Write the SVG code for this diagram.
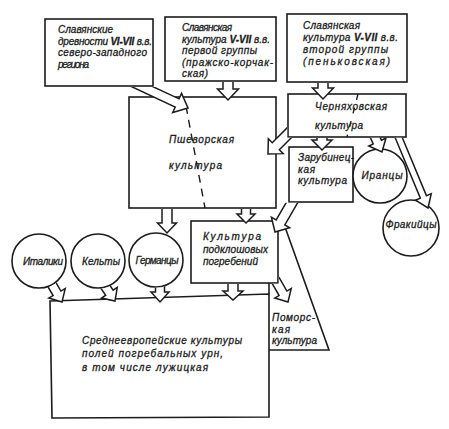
<svg xmlns="http://www.w3.org/2000/svg" width="449" height="429" viewBox="0 0 449 429">
<style>
.bg{fill:#ffffff}
.n{fill:#ffffff;stroke:#1c1c1c;stroke-width:1.6}
.ln{fill:none;stroke:#1c1c1c;stroke-width:1.6}
.d{fill:none;stroke:#1c1c1c;stroke-width:1.4;stroke-dasharray:8,6}
.a{fill:#ffffff;stroke:#1c1c1c;stroke-width:1.5;stroke-linejoin:miter}
.t{font-family:"Liberation Sans","DejaVu Sans",sans-serif;font-style:italic;font-size:10px;fill:#1c1c1c;stroke:#1c1c1c;stroke-width:0.3}
.c{text-anchor:middle}
.r{font-weight:bold}
</style>
<defs>
<clipPath id="cB1"><rect x="0" y="87" width="449" height="342"/></clipPath>
<clipPath id="cCh"><path clip-rule="evenodd" d="M0,0H449V429H0Z M287.2,93.2H406.8V137.8H287.2Z"/></clipPath>
<clipPath id="cZa"><rect x="0" y="202.8" width="449" height="226"/></clipPath>
<clipPath id="cPk"><path clip-rule="evenodd" d="M0,0H449V429H0Z M190.2,220.2H278.8V283.8H190.2Z"/></clipPath>
<clipPath id="cIt"><path clip-rule="evenodd" d="M0,0H449V429H0Z M11.2,261a27.8,27.8 0 1,0 55.6,0a27.8,27.8 0 1,0 -55.6,0Z"/></clipPath>
<clipPath id="cKe"><path clip-rule="evenodd" d="M0,0H449V429H0Z M70.2,261a27.8,27.8 0 1,0 55.6,0a27.8,27.8 0 1,0 -55.6,0Z"/></clipPath>
<clipPath id="cGe"><path clip-rule="evenodd" d="M0,0H449V429H0Z M128.2,260a27.8,27.8 0 1,0 55.6,0a27.8,27.8 0 1,0 -55.6,0Z"/></clipPath>
</defs>
<rect class="bg" x="0" y="0" width="449" height="429"/>

<g id="box-nw-slavic">
<rect class="n" x="45" y="19" width="108" height="67"/>
<text class="t" x="58" y="33" textLength="55" lengthAdjust="spacing">Славянские</text>
<text class="t" x="58" y="44.5" textLength="94" lengthAdjust="spacing">древности <tspan class="r">VI-VII</tspan> в.в.</text>
<text class="t" x="58" y="56" textLength="89" lengthAdjust="spacing">северо-западного</text>
<text class="t" x="58" y="67.5" textLength="31" lengthAdjust="spacing">региона</text>
</g>

<g id="box-prague">
<rect class="n" x="165" y="17" width="111" height="64"/>
<text class="t" x="182" y="31" textLength="50" lengthAdjust="spacing">Славянская</text>
<text class="t" x="182" y="42.5" textLength="88" lengthAdjust="spacing">культура <tspan class="r">V-VII</tspan> в.в.</text>
<text class="t" x="182" y="54" textLength="75" lengthAdjust="spacing">первой группы</text>
<text class="t" x="182" y="65.5" textLength="91" lengthAdjust="spacing">(пражско-корчак-</text>
<text class="t" x="182" y="77" textLength="26" lengthAdjust="spacing">ская)</text>
</g>

<g id="box-penkovka">
<rect class="n" x="287" y="14" width="120" height="68"/>
<text class="t" x="303" y="29" textLength="57" lengthAdjust="spacing">Славянская</text>
<text class="t" x="303" y="40.5" textLength="95" lengthAdjust="spacing">культура <tspan class="r">V-VII</tspan> в.в.</text>
<text class="t" x="303" y="52.5" textLength="85" lengthAdjust="spacing">второй группы</text>
<text class="t" x="303" y="64.5" textLength="87" lengthAdjust="spacing">(пеньковская)</text>
</g>

<g id="box-przeworsk">
<rect class="n" x="129" y="97" width="147" height="111"/>
<line class="d" x1="186" y1="106" x2="205" y2="208"/>
<text class="t" x="169" y="143" textLength="65" lengthAdjust="spacing">Пшеворская</text>
<text class="t" x="169" y="169" textLength="53" lengthAdjust="spacing">культура</text>
</g>

<g id="box-chernyakhov">
<rect class="n" x="288" y="94" width="118" height="43"/>
<line class="d" x1="358" y1="94" x2="347" y2="137" style="stroke-dasharray:6,8"/>
<text class="t" x="315" y="110" textLength="72" lengthAdjust="spacing">Черняховская</text>
<text class="t" x="315" y="129" textLength="48" lengthAdjust="spacing">культура</text>
</g>

<g id="box-zarubintsy">
<rect class="n" x="289" y="147" width="64" height="55"/>
<text class="t" x="298" y="161" textLength="56" lengthAdjust="spacing">Зарубинец-</text>
<text class="t" x="298" y="172.5" textLength="17" lengthAdjust="spacing">кая</text>
<text class="t" x="298" y="184" textLength="49" lengthAdjust="spacing">культура</text>
</g>

<g id="circle-iranians">
<circle class="n" cx="380" cy="176" r="27"/>
<text class="t c" x="382" y="179" textLength="41" lengthAdjust="spacing">Иранцы</text>
</g>

<g id="circle-thracians">
<circle class="n" cx="411" cy="228" r="28"/>
<text class="t c" x="411" y="228" textLength="51" lengthAdjust="spacing">Фракийцы</text>
</g>

<g id="box-pomeranian">
<path class="ln" d="M285,227 L329,350 L269,350"/>
<text class="t" x="272" y="321" textLength="43" lengthAdjust="spacing">Поморс-</text>
<text class="t" x="272" y="332.5" textLength="18" lengthAdjust="spacing">кая</text>
<text class="t" x="272" y="344" textLength="45" lengthAdjust="spacing">культура</text>
</g>

<g id="box-bell-graves">
<rect class="n" x="191" y="221" width="87" height="62"/>
<text class="t" x="203" y="240" textLength="58" lengthAdjust="spacing">Культура</text>
<text class="t" x="203" y="252.5" textLength="65" lengthAdjust="spacing">подклошовых</text>
<text class="t" x="203" y="265" textLength="55" lengthAdjust="spacing">погребений</text>
</g>

<g id="circle-italics">
<circle class="n" cx="39" cy="261" r="27"/>
<text class="t c" x="43" y="265" textLength="40" lengthAdjust="spacing">Италики</text>
</g>
<g id="circle-celts">
<circle class="n" cx="98" cy="261" r="27"/>
<text class="t c" x="101" y="265" textLength="38" lengthAdjust="spacing">Кельты</text>
</g>
<g id="circle-germans">
<circle class="n" cx="156" cy="260" r="27"/>
<text class="t c" x="157" y="264" textLength="43" lengthAdjust="spacing">Германцы</text>
</g>

<g id="box-urnfields">
<path class="n" d="M50,301 L269,294 L269,417 L52,418 Z"/>
<line class="ln" x1="269" y1="283" x2="269" y2="294"/>
<text class="t" x="82" y="344" textLength="160" lengthAdjust="spacing">Среднеевропейские культуры</text>
<text class="t" x="82" y="357" textLength="141" lengthAdjust="spacing">полей погребальных урн,</text>
<text class="t" x="82" y="371" textLength="126" lengthAdjust="spacing">в том числе лужицкая</text>
</g>

<g id="connectors">
<g clip-path="url(#cB1)"><path class="a" transform="translate(188,108) rotate(25)" d="M-68,-4.5 H-12 V-10.5 L0,0 L-12,10.5 V4.5 H-68"/></g>
<path class="a" transform="translate(228,100) rotate(90)" d="M-18,-5 H-11 V-10.5 L0,0 L-11,10.5 V5 H-18"/>
<path class="a" transform="translate(323,99) rotate(90)" d="M-16,-5 H-11 V-10.5 L0,0 L-11,10.5 V5 H-16"/>
<g clip-path="url(#cCh)"><path class="a" transform="translate(268,154) rotate(135)" d="M-45,-5 H-11 V-10.5 L0,0 L-11,10.5 V5 H-45"/></g>
<path class="a" transform="translate(322,150) rotate(90)" d="M-12,-5 H-10 V-10 L0,0 L-10,10 V5 H-12"/>
<g clip-path="url(#cCh)"><path class="a" transform="translate(382,152) rotate(65)" d="M-24,-4.5 H-11 V-9.5 L0,0 L-11,9.5 V4.5 H-24"/></g>
<g clip-path="url(#cCh)"><path class="a" transform="translate(428,208) rotate(67.4)" d="M-82,-3.3 H-12 V-8.5 L0,0 L-12,8.5 V3.3 H-82"/></g>
<g clip-path="url(#cZa)"><path class="a" transform="translate(275,232) rotate(120)" d="M-42,-5 H-11 V-10.5 L0,0 L-11,10.5 V5 H-42"/></g>
<path class="a" transform="translate(167,233) rotate(90)" d="M-24,-5 H-10 V-9.5 L0,0 L-10,9.5 V5 H-24"/>
<path class="a" transform="translate(246,223) rotate(90)" d="M-14,-4.5 H-9 V-9 L0,0 L-9,9 V4.5 H-14"/>
<g clip-path="url(#cIt)"><path class="a" transform="translate(62,302) rotate(60)" d="M-28,-4.5 H-10 V-9.5 L0,0 L-10,9.5 V4.5 H-28"/></g>
<g clip-path="url(#cKe)"><path class="a" transform="translate(115,301) rotate(56)" d="M-28,-4.5 H-10 V-9.5 L0,0 L-10,9.5 V4.5 H-28"/></g>
<g clip-path="url(#cGe)"><path class="a" transform="translate(160,302) rotate(90)" d="M-22,-4.5 H-10 V-9 L0,0 L-10,9 V4.5 H-22"/></g>
<path class="a" transform="translate(233,300) rotate(90)" d="M-16,-5 H-9 V-10 L0,0 L-9,10 V5 H-16"/>
<g clip-path="url(#cPk)"><path class="a" transform="translate(288,302) rotate(60)" d="M-26,-4.5 H-10 V-9.5 L0,0 L-10,9.5 V4.5 H-26"/></g>
</g>
</svg>
